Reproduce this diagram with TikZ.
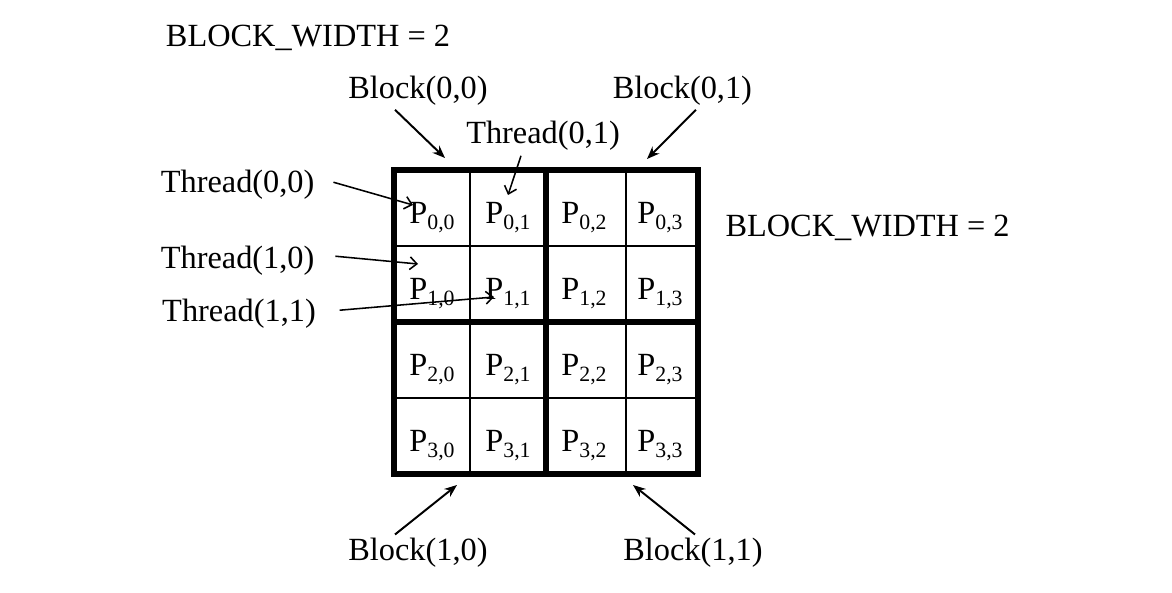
\documentclass[tikz,border=0pt]{standalone}
\usepackage{fontspec}
\setmainfont{Liberation Serif}
\usetikzlibrary{arrows.meta}

% P with a lowered index pair
\newcommand{\pij}[2]{P\raisebox{-0.19em}{\fontsize{15.5}{16}\selectfont #1,#2}}

\tikzset{
	lbl/.style={inner sep=0pt, anchor=base, font=\fontsize{23}{28}\selectfont},
	cell/.style={inner sep=0pt, anchor=base, font=\fontsize{23}{28}\selectfont},
	blockarrow/.style={line width=1.4pt, -{Stealth[length=9pt,width=7pt]}},
	threadarrow/.style={line width=1.1pt, -{Straight Barb[length=5pt,width=9pt]}},
	thinline/.style={line width=1pt},
	thickline/.style={line width=3.6pt}
}

\begin{document}
\begin{tikzpicture}
	\useasboundingbox (0,0) rectangle (29.3,14.8);
	
	% grid
	\draw[thinline] (11.75,2.95) -- (11.75,10.55);
	\draw[thinline] (15.65,2.95) -- (15.65,10.55);
	\draw[thinline] (9.85,8.65) -- (17.45,8.65);
	\draw[thinline] (9.85,4.85) -- (17.45,4.85);
	\draw[thickline] (13.65,2.95) -- (13.65,10.55);
	\draw[thickline] (9.85,6.75) -- (17.45,6.75);
	\draw[thickline] (9.85,2.95) rectangle (17.45,10.55);
	
	% cells
	\foreach \i in {0,...,3}
		\foreach \j in {0,...,3}
			\node[cell] (p\i\j) at ({10.8+1.9*\j},{9.22-1.9*\i}) {\pij{\i}{\j}};
	
	% labels
	\node[lbl] (bwtop) at (7.7,13.625) {BLOCK\_WIDTH = 2};
	\node[lbl] (bwright) at (21.69,8.875) {BLOCK\_WIDTH = 2};
	\node[lbl] (b00) at (10.45,12.325) {Block(0,0)};
	\node[lbl] (b01) at (17.06,12.325) {Block(0,1)};
	\node[lbl] (b10) at (10.45,0.8) {Block(1,0)};
	\node[lbl] (b11) at (17.325,0.8) {Block(1,1)};
	\node[lbl] (t01) at (13.575,11.2) {Thread(0,1)};
	\node[lbl] (t00) at (5.94,9.975) {Thread(0,0)};
	\node[lbl] (t10) at (5.94,8.1) {Thread(1,0)};
	\node[lbl] (t11) at (5.975,6.775) {Thread(1,1)};
	
	% arrow tips
	\coordinate (b00tip) at (11.125,10.85);
	\coordinate (b01tip) at (16.175,10.825);
	\coordinate (b10tip) at (11.425,2.675);
	\coordinate (b11tip) at (15.825,2.675);
	\coordinate (t01tip) at (12.7,9.925);
	\coordinate (t00tip) at (10.325,9.675);
	\coordinate (t10tip) at (10.45,8.2);
	\coordinate (t11tip) at (12.35,7.375);
	
	% arrows
	\draw[blockarrow] ([xshift=-0.575cm,yshift=-0.09cm]b00.south) -- (b00tip);
	\draw[blockarrow] ([xshift=0.34cm,yshift=-0.09cm]b01.south) -- (b01tip);
	\draw[blockarrow] ([xshift=-0.575cm,yshift=0.07cm]b10.north) -- (b10tip);
	\draw[blockarrow] ([xshift=0.05cm,yshift=0.07cm]b11.north) -- (b11tip);
	\draw[threadarrow] ([xshift=-0.55cm,yshift=-0.115cm]t01.south) -- (t01tip);
	\draw[threadarrow] ([xshift=0.47cm,yshift=0.075cm]t00.east) -- (t00tip);
	\draw[threadarrow] ([xshift=0.52cm,yshift=0.1cm]t10.east) -- (t10tip);
	\draw[threadarrow] ([xshift=0.59cm,yshift=0.075cm]t11.east) -- (t11tip);
	
\end{tikzpicture}
\end{document}
